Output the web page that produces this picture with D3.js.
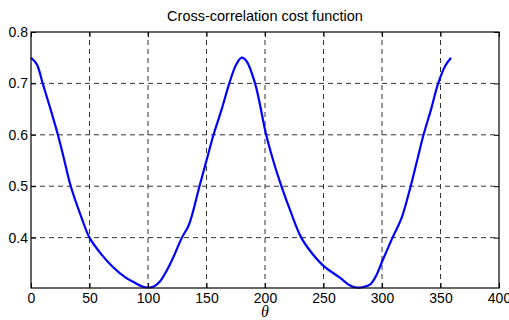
<!DOCTYPE html>
<html><head><meta charset="utf-8">
<script src="https://cdn.jsdelivr.net/npm/d3@7"></script>
<style>body{margin:0;background:#fff}svg{display:block}</style>
</head><body>
<script>
const titleText = "Cross-correlation cost function";
const xLabel = "θ";
const thetaVals = [0,5,10,16,23,28,34,43,50,60,70,81,88,95,100,105,110,119,129,135,144,150,156,163,169.5,175,180,184,191.5,201,207,214,222,231,240,250,264,272,278,284,290,295,300,309,317,324.5,330,335.5,342,348,354,359];
const costVals  = [0.75,0.737,0.70,0.655,0.60,0.555,0.50,0.44,0.40,0.368,0.343,0.322,0.313,0.305,0.303,0.305,0.314,0.349,0.40,0.425,0.50,0.55,0.60,0.65,0.70,0.735,0.75,0.744,0.70,0.60,0.55,0.50,0.45,0.40,0.37,0.345,0.322,0.308,0.303,0.304,0.309,0.326,0.353,0.40,0.44,0.50,0.55,0.60,0.65,0.70,0.734,0.75];
const xTicks = [0,50,100,150,200,250,300,350,400];
const yTicks = [0.4,0.5,0.6,0.7,0.8];

const W=509,H=320;
const m={l:31,r:10,t:32,b:32};
const svg=d3.select("body").append("svg").attr("width",W).attr("height",H);
const x=d3.scaleLinear().domain([0,400]).range([m.l,W-m.r]);
const y=d3.scaleLinear().domain([0.302,0.8]).range([H-m.b,m.t]);
const font="'Liberation Sans', Arial, Helvetica, sans-serif";

// grid
const g=svg.append("g");
g.selectAll(".vx").data(xTicks.slice(1,-1)).join("line")
 .attr("x1",d=>x(d)).attr("x2",d=>x(d)).attr("y1",y.range()[0]).attr("y2",y.range()[1])
 .attr("stroke","#333").attr("stroke-width",1).attr("stroke-dasharray","5,4");
g.selectAll(".hy").data(yTicks.slice(0,-1)).join("line")
 .attr("y1",d=>y(d)).attr("y2",d=>y(d)).attr("x1",x.range()[0]).attr("x2",x.range()[1])
 .attr("stroke","#333").attr("stroke-width",1).attr("stroke-dasharray","5,4");

// curve
const pts=thetaVals.map((t,i)=>[t,costVals[i]]);
svg.append("path").datum(pts)
 .attr("d",d3.line().x(d=>x(d[0])).y(d=>y(d[1])).curve(d3.curveCatmullRom.alpha(0.5)))
 .attr("fill","none").attr("stroke","#0000ff").attr("stroke-width",2.2);

// frame
svg.append("rect").attr("x",m.l).attr("y",m.t).attr("width",W-m.r-m.l).attr("height",H-m.b-m.t)
 .attr("fill","none").attr("stroke","#000").attr("stroke-width",1.2);

// axes
const xa=svg.append("g").attr("transform",`translate(0,${H-m.b})`)
 .call(d3.axisBottom(x).tickValues(xTicks).tickSize(-5).tickPadding(5).tickFormat(d3.format("d")));
const ya=svg.append("g").attr("transform",`translate(${m.l},0)`)
 .call(d3.axisLeft(y).tickValues(yTicks).tickSize(-5).tickPadding(3).tickFormat(d3.format(".1f")));
[xa,ya].forEach(a=>{a.select(".domain").remove();a.selectAll("line").attr("stroke","#000");
 a.selectAll("text").attr("font-family",font).attr("font-size",14).attr("fill","#000");});
ya.selectAll("text").attr("dy","0.32em");
// top / right ticks
svg.append("g").attr("transform",`translate(0,${m.t})`)
 .call(d3.axisTop(x).tickValues(xTicks).tickSize(-5).tickFormat(""))
 .call(a=>{a.select(".domain").remove();a.selectAll("line").attr("stroke","#000");});
svg.append("g").attr("transform",`translate(${W-m.r},0)`)
 .call(d3.axisRight(y).tickValues(yTicks).tickSize(-5).tickFormat(""))
 .call(a=>{a.select(".domain").remove();a.selectAll("line").attr("stroke","#000");});

svg.append("text").attr("x",(m.l+W-m.r)/2).attr("y",21).attr("text-anchor","middle")
 .attr("font-family",font).attr("font-size",14.5).text(titleText);
svg.append("text").attr("x",(m.l+W-m.r)/2).attr("y",317).attr("text-anchor","middle")
 .attr("font-family","'Liberation Serif','DejaVu Serif',serif").attr("font-style","italic").attr("font-size",16).text(xLabel);
</script>
</body></html>
